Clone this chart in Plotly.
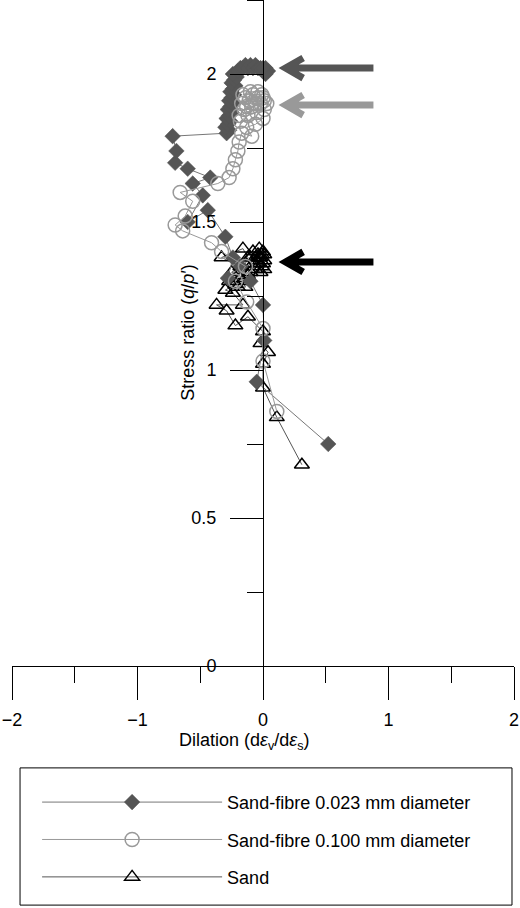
import plotly.graph_objects as go

# Sand-fibre 0.023 mm diameter (filled diamonds)
fib023_dil = [0.52, -0.05, 0.01, 0.00, -0.10, -0.18, -0.28, -0.24, -0.30, -0.44,
              -0.60, -0.48, -0.56, -0.42, -0.60, -0.70, -0.69, -0.72,
              -0.29, -0.27, -0.30, -0.28, -0.26, -0.29, -0.27, -0.25, -0.28, -0.26,
              -0.24, -0.27, -0.25, -0.23, -0.26, -0.24, -0.22, -0.25, -0.23, -0.21,
              -0.24, -0.20, -0.18, -0.16, -0.14, -0.12, -0.10, -0.08, -0.06, -0.04,
              -0.02, 0.00, 0.02, 0.04, 0.02, 0.00]
fib023_q = [0.75, 0.96, 1.10, 1.22, 1.30, 1.35, 1.31, 1.38, 1.45, 1.54,
            1.50, 1.59, 1.63, 1.65, 1.68, 1.70, 1.74, 1.79,
            1.80, 1.81, 1.82, 1.83, 1.84, 1.85, 1.86, 1.87, 1.88, 1.89,
            1.90, 1.91, 1.92, 1.93, 1.94, 1.95, 1.96, 1.97, 1.98, 1.99,
            2.00, 2.01, 2.02, 2.02, 2.03, 2.02, 2.03, 2.02, 2.03, 2.02,
            2.02, 2.01, 2.02, 2.01, 2.00, 2.02]

# Sand-fibre 0.100 mm diameter (open circles)
fib100_dil = [0.11, 0.00, 0.00, -0.13, -0.22, -0.14, -0.33, -0.41, -0.64, -0.70,
              -0.62, -0.56, -0.66, -0.36, -0.27, -0.24, -0.22, -0.20, -0.19, -0.17,
              -0.09, -0.13, -0.06, 0.00, -0.18, -0.12, -0.05, 0.01, -0.15, -0.09,
              -0.02, -0.17, -0.11, -0.04, 0.01, -0.14, -0.08, -0.01, -0.16, -0.10,
              -0.04, 0.00, -0.06, -0.13, -0.19, 0.03]
fib100_q = [0.86, 1.03, 1.14, 1.23, 1.30, 1.35, 1.40, 1.43, 1.47, 1.49,
            1.52, 1.57, 1.60, 1.63, 1.65, 1.68, 1.71, 1.74, 1.77, 1.80,
            1.79, 1.82, 1.83, 1.85, 1.84, 1.86, 1.87, 1.88, 1.88, 1.89,
            1.90, 1.90, 1.91, 1.92, 1.91, 1.92, 1.93, 1.93, 1.93, 1.94,
            1.94, 1.92, 1.90, 1.89, 1.86, 1.90]

# Sand (open triangles)
sand_dil = [0.31, 0.11, 0.00, 0.00, 0.04, -0.02, 0.00, -0.12, -0.22, -0.29,
            -0.37, -0.16, -0.24, -0.30, -0.22, -0.27, -0.20, -0.25, -0.18, -0.33,
            -0.16, -0.12, -0.14, -0.10, -0.06, -0.02, 0.01, -0.08, -0.04, 0.00,
            -0.10, -0.06, -0.02, 0.01, -0.08, -0.04, 0.00, -0.12, -0.16, -0.14,
            -0.20, -0.18, -0.03, -0.01, 0.01, -0.05, -0.01, -0.03]
sand_q = [0.68, 0.84, 0.94, 1.02, 1.06, 1.09, 1.13, 1.18, 1.15, 1.20,
          1.22, 1.22, 1.26, 1.27, 1.29, 1.30, 1.32, 1.33, 1.35, 1.38,
          1.41, 1.38, 1.36, 1.33, 1.34, 1.33, 1.34, 1.36, 1.36, 1.36,
          1.38, 1.38, 1.38, 1.37, 1.40, 1.39, 1.40, 1.32, 1.30, 1.28,
          1.28, 1.31, 1.41, 1.39, 1.39, 1.37, 1.35, 1.38]

# critical state stress ratios marked by arrows
crit_levels = [2.02, 1.895, 1.365]
crit_colors = ['#555555', '#999999', '#000000']

FONT = 'Liberation Sans, Arial, sans-serif'

fig = go.Figure()

fig.add_trace(go.Scatter(
    x=sand_dil, y=sand_q, mode='lines+markers', name='Sand',
    legendrank=3, legendgroup='c',
    line=dict(color='#555555', width=1),
    marker=dict(symbol='triangle-up-open', size=13, color='#000000',
                line=dict(width=1.5, color='#000000'))
))
fig.add_trace(go.Scatter(
    x=fib023_dil, y=fib023_q, mode='lines+markers',
    name='Sand-fibre 0.023 mm diameter', legendrank=1, legendgroup='a',
    line=dict(color='#777777', width=1),
    marker=dict(symbol='diamond', size=12, color='#555555',
                line=dict(width=0.5, color='#555555'))
))
fig.add_trace(go.Scatter(
    x=fib100_dil, y=fib100_q, mode='lines+markers',
    name='Sand-fibre 0.100 mm diameter', legendrank=2, legendgroup='b',
    line=dict(color='#999999', width=1),
    marker=dict(symbol='circle-open', size=14, color='#999999',
                line=dict(width=1.5, color='#999999'))
))

# arrows pointing at the critical state values
for lev, col in zip(crit_levels, crit_colors):
    fig.add_shape(type='path', xref='x', yref='y',
                  path=f'M 0.88 {lev} L 0.18 {lev} M 0.32 {lev + 0.034} L 0.18 {lev} L 0.32 {lev - 0.034}',
                  line=dict(color=col, width=7))

fig.update_layout(
    width=520, height=908,
    margin=dict(l=12, r=6, t=0, b=242, autoexpand=False),
    paper_bgcolor='white', plot_bgcolor='white',
    font=dict(family=FONT, size=18, color='black'),
    showlegend=True,
    legend=dict(x=0.050, y=-0.177, xanchor='left', yanchor='top',
                font=dict(size=18), itemwidth=180, tracegroupgap=11,
                bgcolor='rgba(0,0,0,0)'),
    xaxis=dict(range=[-2, 2], domain=[0, 1], anchor='y',
               showgrid=False, zeroline=False,
               showline=True, linecolor='black', linewidth=1,
               ticks='outside', ticklen=33, tickcolor='black', tickwidth=1,
               dtick=1, tick0=0, ticklabelstandoff=4,
               minor=dict(ticks='outside', ticklen=16, dtick=0.5, tickcolor='black', showgrid=False),
               tickfont=dict(size=18)),
    yaxis=dict(range=[0, 2.25], anchor='free', position=0.5,
               showgrid=False, zeroline=False,
               showline=True, linecolor='black', linewidth=1,
               ticks='outside', ticklen=33, tickcolor='black', tickwidth=1,
               dtick=0.5, tick0=0, ticklabelstandoff=10,
               minor=dict(ticks='outside', ticklen=16, dtick=0.25, tickcolor='black', showgrid=False),
               tickfont=dict(size=18)),
)

# legend frame
fig.add_shape(type='rect', xref='paper', yref='paper',
              x0=0.016, x1=0.996, y0=-0.359, y1=-0.153,
              line=dict(color='black', width=1))

fig.add_annotation(text='Stress ratio (<i>q</i>/<i>p</i>′)', xref='paper', yref='paper',
                   x=0.35, y=0.5, xanchor='center', yanchor='middle',
                   textangle=-90, showarrow=False, font=dict(size=18))
fig.add_annotation(text='Dilation (d<i>ε</i><sub>v</sub>/d<i>ε</i><sub>s</sub>)',
                   xref='paper', yref='paper', x=0.464, y=-0.114,
                   xanchor='center', yanchor='middle',
                   showarrow=False, font=dict(size=18))

# drop the default page margin so the figure sits at the window's corner
fig.write_html('out.html', config={'displayModeBar': False},
               post_script="document.body.style.margin='0px';")
